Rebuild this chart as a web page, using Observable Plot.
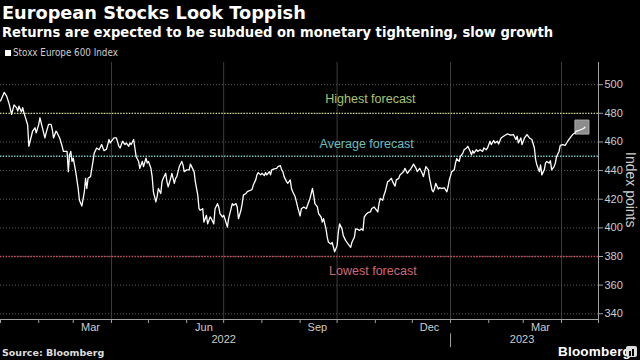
<!DOCTYPE html>
<html><head><meta charset="utf-8">
<script src="https://cdn.jsdelivr.net/npm/d3@7"></script>
<script src="https://cdn.jsdelivr.net/npm/@observablehq/plot@0.6"></script>
<style>
html,body{margin:0;padding:0;background:#000;width:640px;height:360px;overflow:hidden;}
#wrap{position:relative;width:640px;height:360px;background:#000;color:#fff;}
.t{position:absolute;white-space:nowrap;transform-origin:0 0;}
#chart{position:absolute;left:0;top:60px;}
</style></head><body><div id="wrap">
<div class="t" style="left:2px;top:4px;font:bold 18px 'DejaVu Sans';line-height:18px;color:#fff;transform:scaleX(0.985);">European Stocks Look Toppish</div>
<div class="t" style="left:2px;top:25px;font:bold 14.5px 'DejaVu Sans';line-height:14.5px;color:#fff;transform:scaleX(0.905);">Returns are expected to be subdued on monetary tightening, slow growth</div>
<div class="t" style="left:5px;top:50px;width:6px;height:6px;background:#fff;"></div>
<div class="t" style="left:13px;top:48px;font:10px 'DejaVu Sans';line-height:10px;color:#ccc;transform:scaleX(0.88);">Stoxx Europe 600 Index</div>
<div id="chart"></div>
<div class="t" style="left:624px;top:152px;font:14px 'Liberation Sans';line-height:14px;color:#ccc;writing-mode:vertical-rl;">Index points</div>
<div class="t" style="left:2px;top:348px;font:bold 9.5px 'DejaVu Sans';line-height:9.5px;color:#ddd;">Source: Bloomberg</div>
<div class="t" style="left:558px;top:345px;font:bold 13.5px 'Liberation Sans';line-height:13.5px;color:#fff;letter-spacing:0.2px;">Bloomberg</div>
<div class="t" style="left:626px;top:346px;width:11px;height:11px;background:#ddd;border-radius:2px;"></div>
<div class="t" style="left:629px;top:351px;width:1.5px;height:5px;background:#000;"></div>
<div class="t" style="left:632px;top:349px;width:1.5px;height:7px;background:#000;"></div>
</div>
<script>
// Stoxx Europe 600 Index
const dates = [
"2022-01-01","2022-01-04","2022-01-06","2022-01-08","2022-01-10","2022-01-12","2022-01-14","2022-01-15","2022-01-16","2022-01-18","2022-01-19","2022-01-20","2022-01-23","2022-01-24","2022-01-25","2022-01-27","2022-01-29","2022-01-30",
"2022-02-01","2022-02-02","2022-02-04","2022-02-06","2022-02-07","2022-02-09","2022-02-11","2022-02-12","2022-02-13","2022-02-15","2022-02-16","2022-02-18","2022-02-20","2022-02-21","2022-02-24","2022-02-25","2022-02-26","2022-02-27","2022-02-28",
"2022-03-01","2022-03-03","2022-03-05","2022-03-06","2022-03-08","2022-03-10","2022-03-11","2022-03-12","2022-03-13","2022-03-15","2022-03-17","2022-03-18","2022-03-20","2022-03-22","2022-03-24","2022-03-26","2022-03-28","2022-03-30","2022-03-31",
"2022-04-03","2022-04-05","2022-04-07","2022-04-08","2022-04-10","2022-04-12","2022-04-13","2022-04-15","2022-04-16","2022-04-17","2022-04-19","2022-04-20","2022-04-21","2022-04-23","2022-04-24","2022-04-26","2022-04-27","2022-04-29","2022-04-30",
"2022-05-01","2022-05-03","2022-05-04","2022-05-05","2022-05-07","2022-05-08","2022-05-09","2022-05-11","2022-05-12","2022-05-13","2022-05-15","2022-05-16","2022-05-17","2022-05-19","2022-05-20","2022-05-22","2022-05-23","2022-05-24","2022-05-26","2022-05-28","2022-05-29","2022-05-30",
"2022-06-01","2022-06-03","2022-06-04","2022-06-05","2022-06-07","2022-06-08","2022-06-10","2022-06-11","2022-06-12","2022-06-14","2022-06-15","2022-06-17","2022-06-18","2022-06-20","2022-06-21","2022-06-23","2022-06-24","2022-06-26","2022-06-27","2022-06-28","2022-06-30",
"2022-07-01","2022-07-02","2022-07-04","2022-07-05","2022-07-07","2022-07-08","2022-07-09","2022-07-11","2022-07-12","2022-07-13","2022-07-15","2022-07-16","2022-07-17","2022-07-19","2022-07-20","2022-07-21","2022-07-23","2022-07-24","2022-07-25","2022-07-27","2022-07-28","2022-07-29","2022-07-31",
"2022-08-01","2022-08-03","2022-08-04","2022-08-05","2022-08-07","2022-08-08","2022-08-09","2022-08-11","2022-08-13","2022-08-14","2022-08-16","2022-08-17","2022-08-18","2022-08-19","2022-08-21","2022-08-22","2022-08-24","2022-08-25","2022-08-26","2022-08-28","2022-08-29","2022-08-30",
"2022-09-01","2022-09-02","2022-09-04","2022-09-06","2022-09-07","2022-09-09","2022-09-11","2022-09-12","2022-09-13","2022-09-15","2022-09-16","2022-09-18","2022-09-19","2022-09-20","2022-09-22","2022-09-23","2022-09-24","2022-09-26","2022-09-27","2022-09-29",
"2022-10-01","2022-10-02","2022-10-03","2022-10-05","2022-10-06","2022-10-08","2022-10-10","2022-10-12","2022-10-13","2022-10-15","2022-10-16","2022-10-18","2022-10-19","2022-10-21","2022-10-22","2022-10-23","2022-10-25","2022-10-26","2022-10-28","2022-10-29","2022-10-31",
"2022-11-01","2022-11-03","2022-11-04","2022-11-05","2022-11-07","2022-11-08","2022-11-09","2022-11-11","2022-11-12","2022-11-14","2022-11-15","2022-11-17","2022-11-18","2022-11-20","2022-11-21","2022-11-24","2022-11-25","2022-11-27","2022-11-30",
"2022-12-02","2022-12-04","2022-12-05","2022-12-07","2022-12-09","2022-12-10","2022-12-12","2022-12-14","2022-12-15","2022-12-17","2022-12-18","2022-12-19","2022-12-20","2022-12-22","2022-12-23","2022-12-25","2022-12-27","2022-12-29","2022-12-30","2022-12-31",
"2023-01-02","2023-01-04","2023-01-05","2023-01-06","2023-01-08","2023-01-09","2023-01-11","2023-01-12","2023-01-14","2023-01-15","2023-01-17","2023-01-18","2023-01-19","2023-01-20","2023-01-22","2023-01-23","2023-01-25","2023-01-27","2023-01-28","2023-01-30","2023-01-31",
"2023-02-02","2023-02-03","2023-02-05","2023-02-06","2023-02-08","2023-02-09","2023-02-11","2023-02-13","2023-02-16","2023-02-19","2023-02-21","2023-02-23","2023-02-24","2023-02-25","2023-02-27","2023-02-28",
"2023-03-02","2023-03-04","2023-03-06","2023-03-08","2023-03-10","2023-03-11","2023-03-12","2023-03-14","2023-03-15","2023-03-16","2023-03-18","2023-03-19","2023-03-20","2023-03-22","2023-03-23","2023-03-24","2023-03-26","2023-03-27","2023-03-28","2023-03-30","2023-03-31",
"2023-04-02","2023-04-04","2023-04-06","2023-04-08","2023-04-10","2023-04-12","2023-04-13","2023-04-15","2023-04-17","2023-04-19","2023-04-20"
];
const values = [
488.7,494.6,492,486.6,479.3,485.9,484,481.6,485,481,484,480.5,472,457,460.5,467.5,469.9,466.3,
472.3,476.9,469.9,462.8,466.3,472.3,472.3,468.7,462.8,467.5,466.3,462.8,457,453.4,453.4,439.3,451,453.4,446.4,
448.7,439.3,427.5,419.3,415.3,425.2,434.6,427.5,434.6,435.8,446.4,452.2,455.8,454.6,458.2,453.9,455,461.7,459.3,
462.8,462.8,457,455.8,460.5,458.2,459.3,457,459.3,458.2,461.7,455.8,449.9,446.4,441.6,446.4,442.8,448.7,445.2,
446.4,441.6,435.8,425.2,418.1,421.7,427.5,424,432.3,434.6,438.1,432.3,428.7,434.6,438.1,431.1,434.6,435.8,442.8,446.4,444,439.3,
440.5,440.5,444.5,442.8,439.3,432.3,422.9,413.4,412.3,413.4,404,408.8,402.8,407.6,406.4,402.8,413.4,416.9,414.6,409.9,407.6,
408.8,406.4,400.5,406.4,413.4,416.9,415.8,416.9,414.6,406.4,412.3,416.9,422.9,424,425.2,425.7,426.4,426.8,429.9,433.5,437,438.6,437,
438.1,436.5,438.6,437,439.3,437,440.5,441.2,441.6,442.8,443.5,440.5,439.3,435.8,432.3,431.1,433.5,427.5,425.2,421.7,418.1,414.6,
408.3,413.4,414.6,413.4,415.8,420.5,427.5,422.9,416.9,414.6,409.9,407.6,404,406.4,399.3,393.4,389.9,388.7,389.9,383.3,
387.6,397,402.8,399.3,394.6,391.1,388.7,386.4,389.9,393.4,399.3,398.9,398.2,399.3,398.2,407.6,409.9,410.6,411.1,413.4,414.6,
413.4,411.1,416.9,420.5,419.3,422.9,425.2,432.3,432.7,434.6,432.3,429.2,433.5,434.6,437,439.3,441.6,438.1,441.6,
444.5,441.6,439.3,441.6,438.1,435.8,442.8,440.5,434.6,426.4,425.2,427.5,431.1,427.1,428,427.5,428,425.2,428.7,433.5,
439.3,440.5,445.2,448.3,446.4,449.9,452.2,454.6,455.8,457,453.4,451,453.9,452.2,454.6,453.4,454.6,453.4,455.8,454.6,455.8,
460.5,458.2,461,459.3,460.5,458.6,462.8,464,465.6,464.7,465.2,461.7,464,459.3,462.8,458.2,
462.8,465.2,462.8,461.7,455.8,447.6,444,439.3,444,437,440.5,445.2,446.4,445.2,446.9,440.5,442.8,445.2,449.9,453.4,457.7,
458.2,457.7,460.5,462.8,465.2,466.3,467.5,468,468.7,469.4,470.4
];

// Forecasts for the index
const forecastNames = ["Highest forecast", "Average forecast", "Lowest forecast"];
const forecastValues = [480, 450, 380];

// Axis ticks and labels
const yTicks = [340, 360, 380, 400, 420, 440, 460, 480, 500];
const quarterStarts = ["2022-04-01", "2022-07-01", "2022-10-01", "2023-01-01", "2023-04-01"];
const monthStarts = ["2022-01-01","2022-02-01","2022-03-01","2022-04-01","2022-05-01","2022-06-01","2022-07-01","2022-08-01","2022-09-01","2022-10-01","2022-11-01","2022-12-01","2023-01-01","2023-02-01","2023-03-01","2023-04-01","2023-05-01"];
const monthLabelDates = ["2022-03-15", "2022-06-15", "2022-09-15", "2022-12-15", "2023-03-15"];
const monthLabels = ["Mar", "Jun", "Sep", "Dec", "Mar"];
const yearLabelDates = ["2022-07-01", "2023-02-28"];
const yearLabels = ["2022", "2023"];
const yearBreak = "2023-01-01";

// Styles (not data)
const forecastLineColors = ["#d2d48c", "#7cc8c8", "#c4505e"];
const forecastTextColors = ["#a8c46e", "#6cbcbc", "#cf6876"];
const forecastLabelDates = ["2022-10-28", "2022-10-25", "2022-10-30"];
const forecastLabelDy = [-10.5, -8, 18];

const D = (s) => new Date(s);
const series = dates.map((d, i) => ({date: D(d), value: values[i]}));
const last = series[series.length - 1];
const monthLabelMap = new Map(monthLabelDates.map((d, i) => [+D(d), monthLabels[i]]));
const yearLabelMap = new Map(yearLabelDates.map((d, i) => [+D(d), yearLabels[i]]));

const forecastMarks = forecastValues.flatMap((v, i) => [
  Plot.ruleY([v], {stroke: forecastLineColors[i], strokeWidth: 1.4, strokeDasharray: "1.4,1.4"}),
  Plot.text([forecastNames[i]], {
    x: () => D(forecastLabelDates[i]), y: () => v, text: (d) => d,
    fill: forecastTextColors[i], fontSize: 12.5, fontFamily: "Liberation Sans",
    textAnchor: "middle", lineAnchor: "bottom", dy: forecastLabelDy[i]
  })
]);

const chart = Plot.plot({
  width: 640,
  height: 289,
  marginTop: 2,
  marginBottom: 30,
  marginLeft: 0,
  marginRight: 42,
  style: {background: "transparent", color: "#cccccc", fontFamily: "Liberation Sans", fontSize: "11px", overflow: "visible"},
  x: {type: "utc", domain: [D("2022-01-01"), D("2023-05-01")], label: null},
  y: {domain: [336, 515.5], label: null},
  marks: [
    Plot.ruleX(quarterStarts.map(D), {stroke: "#3c3c3c", strokeWidth: 1}),
    Plot.ruleY(yTicks, {stroke: "#5c5c5c", strokeDasharray: "1,2"}),
    ...forecastMarks,
    Plot.dot([last], {x: "date", y: "value", symbol: "square", r: 7.9, dx: -3, fill: "#8c8c8c", stroke: "#b0b0b0", strokeWidth: 1}),
    Plot.line(series, {x: "date", y: "value", stroke: "#ffffff", strokeWidth: 1.3, strokeLinejoin: "round"}),
    Plot.frame({anchor: "bottom", stroke: "#a0a0a0"}),
    Plot.frame({anchor: "right", stroke: "#a0a0a0"}),
    Plot.axisX(monthStarts.map(D), {tickSize: 4, tickFormat: () => "", stroke: "#a0a0a0"}),
    Plot.axisX(monthLabelDates.map(D), {tickSize: 0, tickPadding: 4, tickFormat: (d) => monthLabelMap.get(+d), fill: "#cccccc", fontSize: 11}),
    Plot.axisX(yearLabelDates.map(D), {tickSize: 0, tickPadding: 16, tickFormat: (d) => yearLabelMap.get(+d), fill: "#cccccc", fontSize: 11}),
    Plot.ruleX([D(yearBreak)], {y1: 326, y2: 316.3, stroke: "#a0a0a0"}),
    Plot.axisY(yTicks, {anchor: "right", tickSize: 4, tickPadding: 2, label: null, stroke: "#a0a0a0", fill: "#cccccc", fontSize: 11})
  ]
});
document.getElementById("chart").appendChild(chart);
</script>
</body></html>
